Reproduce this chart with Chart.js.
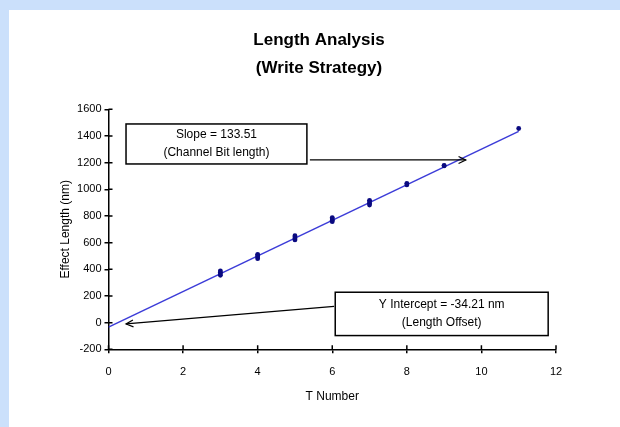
<!DOCTYPE html>
<html>
<head>
<meta charset="utf-8">
<script src="https://cdn.jsdelivr.net/npm/chart.js@4/dist/chart.umd.min.js"></script>
<style>
  html, body { margin: 0; padding: 0; background: #cbe0fb; width: 620px; height: 427px; overflow: hidden; }
  #wrap { position: absolute; left: 9px; top: 10px; width: 611px; height: 417px; background: #ffffff; }
  canvas { display: block; }
</style>
</head>
<body>
<div id="wrap"><canvas id="c" width="611" height="417"></canvas></div>
<script>
// ---- data ----
const titleLines = ["Length Analysis", "(Write Strategy)"];
const xAxisTitle = "T Number";
const yAxisTitle = "Effect Length (nm)";
const xTicks = [0, 2, 4, 6, 8, 10, 12];
const yTicks = [-200, 0, 200, 400, 600, 800, 1000, 1200, 1400, 1600];
const pointT   = [3, 3, 3, 3, 4, 4, 4, 4, 5, 5, 5, 5, 6, 6, 6, 6, 7, 7, 7, 7, 8, 8, 9, 9, 11];
const pointLen = [355, 365, 378, 388, 480, 492, 502, 512, 620, 630, 642, 652, 757, 768, 778, 788, 882, 893, 905, 917, 1033, 1045, 1175, 1180, 1456];
const fitT   = [0, 11];
const fitLen = [-34.21, 1434.4];
const slopeText = ["Slope = 133.51", "(Channel Bit length)"];
const interceptText = ["Y Intercept = -34.21 nm", "(Length Offset)"];

const FONT = "'Liberation Sans', Arial, sans-serif";

const annotationPlugin = {
  id: 'annots',
  afterDraw(chart) {
    const ctx = chart.ctx;
    const xs = chart.scales.x, ys = chart.scales.y;
    const ca = chart.chartArea;
    ctx.save();
    // chart title (two centred lines)
    ctx.fillStyle = '#000';
    ctx.font = 'bold 17px ' + FONT;
    ctx.textAlign = 'center';
    ctx.textBaseline = 'middle';
    titleLines.forEach((s, i) => ctx.fillText(s, 310, 30 + i * 28));

    // inner halves of tick marks (cross ticks)
    ctx.strokeStyle = '#000';
    ctx.lineWidth = 1.5;
    ctx.beginPath();
    xTicks.forEach(v => {
      const px = xs.getPixelForValue(v);
      ctx.moveTo(px, ca.bottom); ctx.lineTo(px, ca.bottom - 4);
    });
    yTicks.forEach(v => {
      const py = ys.getPixelForValue(v);
      ctx.moveTo(ca.left, py); ctx.lineTo(ca.left + 4, py);
    });
    ctx.stroke();

    const X = v => xs.getPixelForValue(v);
    const Y = v => ys.getPixelForValue(v);

    function box(x0, x1, y0, y1, lines) {
      const l = X(x0), r = X(x1), t = Y(y0), b = Y(y1);
      ctx.fillStyle = '#fff';
      ctx.fillRect(l, t, r - l, b - t);
      ctx.strokeStyle = '#000';
      ctx.lineWidth = 1.5;
      ctx.strokeRect(l, t, r - l, b - t);
      ctx.fillStyle = '#000';
      ctx.font = '12px ' + FONT;
      ctx.textAlign = 'center';
      ctx.textBaseline = 'middle';
      const cx = (l + r) / 2, cy = (t + b) / 2;
      const lh = 18;
      lines.forEach((s, i) => ctx.fillText(s, cx, cy + (i - (lines.length - 1) / 2) * lh));
    }
    function arrow(x0, y0, x1, y1) {
      const a = X(x0), b = Y(y0), c = X(x1), d = Y(y1);
      ctx.strokeStyle = '#000';
      ctx.lineWidth = 1.2;
      ctx.beginPath(); ctx.moveTo(a, b); ctx.lineTo(c, d); ctx.stroke();
      const ang = Math.atan2(d - b, c - a);
      const hl = 8, hw = 0.45;
      ctx.beginPath();
      ctx.moveTo(c - hl * Math.cos(ang - hw), d - hl * Math.sin(ang - hw));
      ctx.lineTo(c, d);
      ctx.lineTo(c - hl * Math.cos(ang + hw), d - hl * Math.sin(ang + hw));
      ctx.stroke();
    }
    box(0.47, 5.32, 1490, 1190, slopeText);
    arrow(5.4, 1220, 9.58, 1220);
    box(6.08, 11.79, 228, -97, interceptText);
    arrow(6.05, 122, 0.47, -10);
    ctx.restore();
  }
};

new Chart(document.getElementById('c'), {
  type: 'scatter',
  data: {
    datasets: [
      {
        label: 'Measured',
        data: pointT.map((t, i) => ({ x: t, y: pointLen[i] })),
        backgroundColor: '#0a0a80',
        borderColor: '#0a0a80',
        pointRadius: 2.4,
        pointBorderWidth: 0,
        showLine: false
      },
      {
        label: 'Fit',
        type: 'line',
        data: fitT.map((t, i) => ({ x: t, y: fitLen[i] })),
        borderColor: '#3c3cd8',
        borderWidth: 1.5,
        pointRadius: 0,
        fill: false
      }
    ]
  },
  options: {
    responsive: false,
    animation: false,
    layout: { padding: { left: 30, right: 64, top: 99.3, bottom: 17.7 } },
    plugins: {
      legend: { display: false },
      tooltip: { enabled: false },
      title: { display: false }
    },
    scales: {
      x: {
        type: 'linear',
        min: 0, max: 12,
        afterBuildTicks: s => { s.ticks = xTicks.map(v => ({ value: v })); },
        afterFit: s => { s.height = 60; },
        grid: { display: true, drawOnChartArea: false, color: '#000', lineWidth: 1.5, tickLength: 4 },
        border: { display: true, color: '#000', width: 1.5 },
        ticks: { color: '#000', font: { family: FONT, size: 11 }, padding: 12, callback: v => String(v) },
        title: { display: true, text: xAxisTitle, color: '#000', font: { family: FONT, size: 12 }, padding: { top: 0, bottom: 5 } }
      },
      y: {
        type: 'linear',
        min: -200, max: 1600,
        afterBuildTicks: s => { s.ticks = yTicks.map(v => ({ value: v })); },
        afterFit: s => { s.width = 69.5; },
        grid: { display: true, drawOnChartArea: false, color: '#000', lineWidth: 1.5, tickLength: 4 },
        border: { display: true, color: '#000', width: 1.5 },
        ticks: { color: '#000', font: { family: FONT, size: 11 }, padding: 3, callback: v => String(v) },
        title: { display: true, text: yAxisTitle, color: '#000', font: { family: FONT, size: 12 }, padding: { top: 19, bottom: 0 } }
      }
    }
  },
  plugins: [annotationPlugin]
});
</script>
</body>
</html>
